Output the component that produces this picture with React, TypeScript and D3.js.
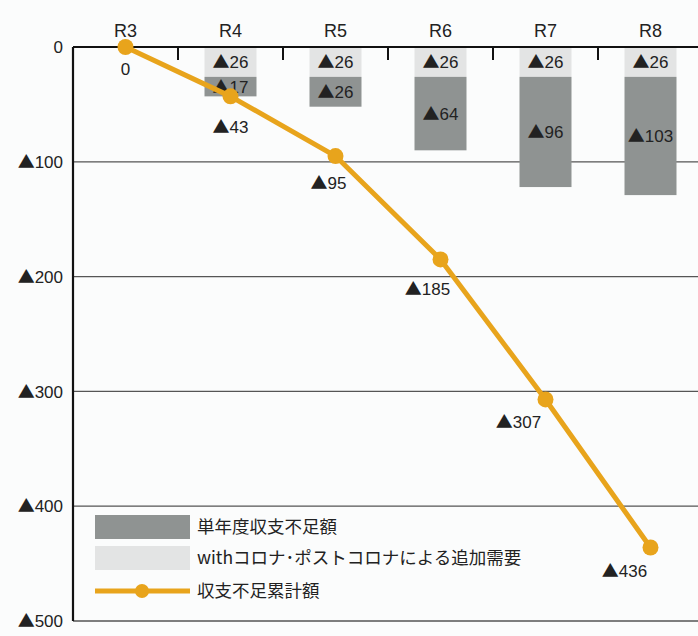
import React, {useEffect, useRef} from 'react';
import * as d3 from 'd3';

// 年度
const years = ['R3', 'R4', 'R5', 'R6', 'R7', 'R8'];
// withコロナ・ポストコロナによる追加需要 (億円, 不足はマイナス)
const extraDemand = [null, 26, 26, 26, 26, 26];
// 単年度収支不足額
const yearlyShortfall = [null, 17, 26, 64, 96, 103];
// 収支不足累計額
const cumulative = [0, 43, 95, 185, 307, 436];
const yTicks = [0, 100, 200, 300, 400, 500];

// 累計ラベルのずらし量 (見た目の調整のみ)
const cumLabelOffset = [[0, 22], [0, 31], [-7, 27], [-13, 29], [-27, 22], [-26, 23]];

const FONT = '"Noto Sans CJK JP", "Noto Sans", sans-serif';
const NUM_FONT = '"Liberation Sans", "DejaVu Sans", sans-serif';
const DARK = '#8f9392';
const LIGHT = '#e3e4e4';
const ORANGE = '#e8a41c';

// ▲ は CJK フォント、数字は Liberation で書く
function numText(sel: any, v: number) {
  sel.attr('font-family', NUM_FONT).attr('fill', '#222');
  if (v !== 0) {
    sel.append('tspan').attr('font-family', FONT).text('▲');
  }
  sel.append('tspan').text(String(v));
  return sel;
}

function App() {
  const ref = useRef<SVGSVGElement>(null);
  const W = 698;
  const H = 636;
  const left = 73;
  const top = 47;
  const bottom = 621;

  useEffect(() => {
    const svg = d3.select(ref.current);
    svg.selectAll('*').remove();

    const x = d3.scaleBand<string>().domain(years).range([left, left + 105 * years.length]).padding(0);
    const y = d3.scaleLinear().domain([0, 500]).range([top, bottom]);
    const bw = x.bandwidth();
    const barW = 52;
    const cx = (i: number) => (x(years[i]) as number) + bw / 2;

    svg.append('rect').attr('width', W).attr('height', H).attr('fill', '#fbfcfc');

    // grid lines
    svg.append('g')
      .selectAll('line')
      .data(yTicks.filter(t => t > 0))
      .enter()
      .append('line')
      .attr('x1', left)
      .attr('x2', W)
      .attr('y1', d => y(d))
      .attr('y2', d => y(d))
      .attr('stroke', '#555')
      .attr('stroke-width', 1.3);

    // y tick labels
    const yl = svg.append('g');
    yTicks.forEach(t => {
      const tx = yl.append('text')
        .attr('x', 63)
        .attr('y', y(t))
        .attr('dy', '0.36em')
        .attr('text-anchor', 'end')
        .attr('font-size', 17);
      numText(tx, t);
    });

    // bars: light (extra demand) on top, dark (yearly shortfall) below
    const bars = svg.append('g');
    years.forEach((yr, i) => {
      const e = extraDemand[i];
      const s = yearlyShortfall[i];
      if (e == null || s == null) return;
      const x0 = cx(i) - barW / 2;
      bars.append('rect')
        .attr('x', x0).attr('y', y(0))
        .attr('width', barW).attr('height', y(e) - y(0))
        .attr('fill', LIGHT);
      bars.append('rect')
        .attr('x', x0).attr('y', y(e))
        .attr('width', barW).attr('height', y(e + s) - y(e))
        .attr('fill', DARK);
      numText(bars.append('text')
        .attr('x', cx(i)).attr('y', (y(0) + y(e)) / 2)
        .attr('dy', '0.36em').attr('text-anchor', 'middle')
        .attr('font-size', 17), e);
      numText(bars.append('text')
        .attr('x', cx(i)).attr('y', (y(e) + y(e + s)) / 2)
        .attr('dy', '0.36em').attr('text-anchor', 'middle')
        .attr('font-size', 17), s);
    });

    // axes frame
    svg.append('line')
      .attr('x1', left).attr('x2', W).attr('y1', top).attr('y2', top)
      .attr('stroke', '#111').attr('stroke-width', 2.2);
    svg.append('line')
      .attr('x1', left).attr('x2', left).attr('y1', top).attr('y2', bottom)
      .attr('stroke', '#111').attr('stroke-width', 2.2);
    svg.append('g')
      .selectAll('line')
      .data(years.slice(1))
      .enter()
      .append('line')
      .attr('x1', d => x(d) as number)
      .attr('x2', d => x(d) as number)
      .attr('y1', top)
      .attr('y2', top + 13)
      .attr('stroke', '#111')
      .attr('stroke-width', 2);

    // category labels
    svg.append('g')
      .selectAll('text')
      .data(years)
      .enter()
      .append('text')
      .attr('x', (d, i) => cx(i))
      .attr('y', 31)
      .attr('dy', '0.36em')
      .attr('text-anchor', 'middle')
      .attr('font-family', NUM_FONT)
      .attr('font-size', 18)
      .attr('fill', '#222')
      .text(d => d);

    // cumulative line
    const line = d3.line<number>().x((d, i) => cx(i)).y(d => y(d));
    svg.append('path')
      .datum(cumulative)
      .attr('d', line)
      .attr('fill', 'none')
      .attr('stroke', ORANGE)
      .attr('stroke-width', 5)
      .attr('stroke-linejoin', 'round');
    svg.append('g')
      .selectAll('circle')
      .data(cumulative)
      .enter()
      .append('circle')
      .attr('cx', (d, i) => cx(i))
      .attr('cy', d => y(d))
      .attr('r', 8)
      .attr('fill', ORANGE);
    const cl = svg.append('g');
    cumulative.forEach((v, i) => {
      numText(cl.append('text')
        .attr('x', cx(i) + cumLabelOffset[i][0])
        .attr('y', y(v) + cumLabelOffset[i][1])
        .attr('dy', '0.36em')
        .attr('text-anchor', 'middle')
        .attr('font-size', 17), v);
    });

    // legend
    const lg = svg.append('g');
    const items = [
      {label: '単年度収支不足額', type: 'dark'},
      {label: 'withコロナ･ポストコロナによる追加需要', type: 'light'},
      {label: '収支不足累計額', type: 'line'},
    ];
    const rowY = [527, 558, 591];
    items.forEach((it, i) => {
      const cy = rowY[i];
      if (it.type === 'line') {
        lg.append('line').attr('x1', 95).attr('x2', 190).attr('y1', cy).attr('y2', cy)
          .attr('stroke', ORANGE).attr('stroke-width', 5);
        lg.append('circle').attr('cx', 142).attr('cy', cy).attr('r', 7).attr('fill', ORANGE);
      } else {
        lg.append('rect').attr('x', 95).attr('y', cy - 12).attr('width', 95).attr('height', 24)
          .attr('fill', it.type === 'dark' ? DARK : LIGHT);
      }
      lg.append('text')
        .attr('x', 197).attr('y', cy).attr('dy', '0.36em')
        .attr('font-family', FONT).attr('font-size', 17.5).attr('fill', '#222')
        .text(it.label);
    });
  });

  return (
    <svg ref={ref} width={W} height={H} viewBox={`0 0 ${W} ${H}`}
      style={{position: 'absolute', left: 0, top: 0, display: 'block'}}/>
  );
}

export default App;
